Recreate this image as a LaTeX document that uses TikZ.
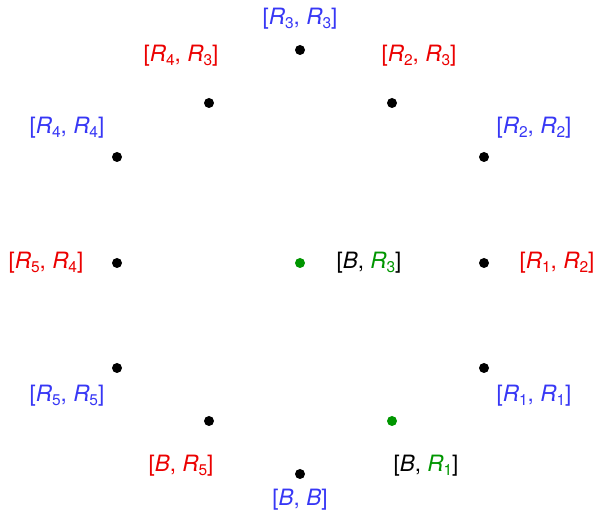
\documentclass[tikz,border=0pt]{standalone}
\usepackage{fontspec}
\setmainfont{TeX Gyre Heros}
\definecolor{lblue}{RGB}{55,55,245}
\definecolor{lred}{RGB}{235,0,0}
\definecolor{lgreen}{RGB}{0,150,0}
\newcommand{\Rsub}[1]{\textit{R}\raisebox{-0.28ex}{\fontsize{15.5}{17}\selectfont #1}}
\newcommand{\Bit}{\textit{B}}
\tikzset{
  dot/.style={circle,fill=black,inner sep=0pt,minimum size=10pt},
  gdot/.style={circle,fill=lgreen,inner sep=0pt,minimum size=10pt},
  lbl/.style={inner sep=0pt,font=\fontsize{22.5}{27}\selectfont},
}
\begin{document}
\begin{tikzpicture}[x=1pt,y=1pt]
\useasboundingbox (0,0) rectangle (595,518);
% dots (y = 518 - pixel y)
\node[dot] (d33) at (300,468) {};
\node[dot] (d43) at (209,415) {};
\node[dot] (d23) at (392,415) {};
\node[dot] (d44) at (117,361) {};
\node[dot] (d22) at (484,361) {};
\node[dot] (d54) at (117,255) {};
\node[gdot] (db3) at (300,255) {};
\node[dot] (d12) at (484,255) {};
\node[dot] (d55) at (117,150) {};
\node[dot] (d11) at (484,150) {};
\node[dot] (db5) at (209,97) {};
\node[gdot] (db1) at (392,97) {};
\node[dot] (dbb) at (300,44) {};
% labels
\node[lbl,text=lblue] (l33) at (300,499) {[\Rsub{3}, \Rsub{3}]};
\node[lbl,text=lred] (l43) at (181,462) {[\Rsub{4}, \Rsub{3}]};
\node[lbl,text=lred] (l23) at (419,462) {[\Rsub{2}, \Rsub{3}]};
\node[lbl,text=lblue] (l44) at (67,390) {[\Rsub{4}, \Rsub{4}]};
\node[lbl,text=lblue] (l22) at (534,390) {[\Rsub{2}, \Rsub{2}]};
\node[lbl,text=lred] (l54) at (46,255) {[\Rsub{5}, \Rsub{4}]};
\node[lbl] (lb3) at (369,255) {[\Bit, \textcolor{lgreen}{\Rsub{3}}]};
\node[lbl,text=lred] (l12) at (557,255) {[\Rsub{1}, \Rsub{2}]};
\node[lbl,text=lblue] (l55) at (67,122) {[\Rsub{5}, \Rsub{5}]};
\node[lbl,text=lblue] (l11) at (534,122) {[\Rsub{1}, \Rsub{1}]};
\node[lbl,text=lred] (lb5) at (181,52) {[\Bit, \Rsub{5}]};
\node[lbl] (lb1) at (426,52) {[\Bit, \textcolor{lgreen}{\Rsub{1}}]};
\node[lbl,text=lblue] (lbb) at (300,18) {[\Bit, \Bit]};
\end{tikzpicture}
\end{document}
